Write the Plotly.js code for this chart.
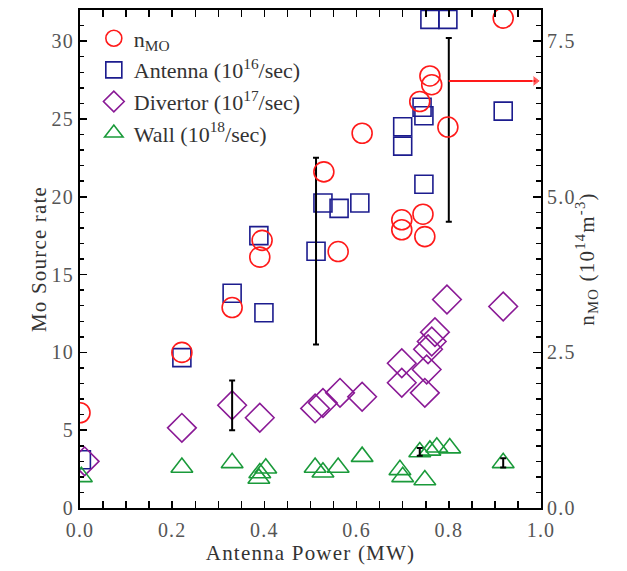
<!DOCTYPE html>
<html><head><meta charset="utf-8">
<script src="https://cdn.plot.ly/plotly-3.0.1.min.js"></script>
<style>body{margin:0;background:#fff}#c{width:627px;height:571px}
#c text{letter-spacing:1.2px} #c .legend text{letter-spacing:0}</style>
</head><body><div id="c"></div>
<script>
// n_MO (10^14 m^-3), right axis
const nmoX = [0.0, 0.221, 0.33, 0.395, 0.39, 0.529, 0.56, 0.612, 0.698, 0.698, 0.744, 0.748, 0.737, 0.759, 0.763, 0.798, 0.918];
const nmoY = [1.53, 2.5, 3.22, 4.3, 4.03, 5.4, 4.12, 6.02, 4.63, 4.47, 4.72, 4.36, 6.53, 6.94, 6.8, 6.12, 7.87];
// Antenna (10^16/sec), left axis
const antX = [0.003, 0.221, 0.33, 0.388, 0.399, 0.512, 0.527, 0.562, 0.607, 0.70, 0.70, 0.742, 0.746, 0.746, 0.759, 0.798, 0.918];
const antY = [3.1, 9.66, 13.8, 17.5, 12.55, 16.5, 19.6, 19.25, 19.6, 24.5, 23.25, 25.75, 25.2, 20.8, 31.4, 31.4, 25.5];
// Divertor (10^17/sec), left axis
const divX = [0.01, 0.221, 0.33, 0.39, 0.51, 0.527, 0.564, 0.612, 0.698, 0.698, 0.748, 0.752, 0.755, 0.763, 0.77, 0.796, 0.918];
const divY = [3.0, 5.15, 6.6, 5.8, 6.4, 6.75, 7.4, 7.15, 9.3, 8.05, 7.4, 8.9, 10.2, 10.7, 11.3, 13.4, 12.95];
// Wall (10^18/sec), left axis
const walX = [0.003, 0.221, 0.33, 0.39, 0.403, 0.388, 0.51, 0.527, 0.56, 0.612, 0.694, 0.70, 0.737, 0.748, 0.759, 0.774, 0.802, 0.918];
const walY = [2.0, 2.6, 2.9, 2.25, 2.55, 1.9, 2.6, 2.3, 2.6, 3.3, 2.45, 2.0, 3.6, 1.8, 3.7, 3.9, 3.85, 2.9];
// error bars (left-axis units)
const errX = [0.33, 0.512, 0.80, 0.737, 0.918];
const errY = [6.6, 16.5, 24.3, 3.6, 2.9];
const errE = [1.6, 6.0, 5.9, 0.25, 0.3];
// red arrow to right axis (n_MO units)
const arrX = [0.80, 0.988];
const arrY = [6.86, 6.86];

const SERIF = 'Liberation Serif, Times New Roman, serif';
const traces = [
  {x: nmoX, y: nmoY, yaxis: 'y2', type: 'scatter', mode: 'markers', name: 'n<sub>MO</sub>', legendgroup: 'a',
   marker: {symbol: 'circle-open', size: 20, color: '#ff1a1a', line: {width: 1.6}}},
  {x: antX, y: antY, type: 'scatter', mode: 'markers', name: 'Antenna (10<sup>16</sup>/sec)', legendgroup: 'b',
   marker: {symbol: 'square-open', size: 18, color: '#1c1c8e', line: {width: 1.6}}},
  {x: divX, y: divY, type: 'scatter', mode: 'markers', name: 'Divertor (10<sup>17</sup>/sec)', legendgroup: 'c',
   marker: {symbol: 'diamond-open', size: 22, color: '#8a1a96', line: {width: 1.6}}},
  {x: walX, y: walY, type: 'scatter', mode: 'markers', name: 'Wall (10<sup>18</sup>/sec)', legendgroup: 'd',
   marker: {symbol: 'triangle-up-open', size: 19, color: '#1a9a3a', line: {width: 1.6}}},
  {x: errX, y: errY, type: 'scatter', mode: 'markers', showlegend: false, hoverinfo: 'skip',
   marker: {size: 1, opacity: 0},
   error_y: {type: 'data', array: errE, visible: true, color: '#000', thickness: 2, width: 3}},
  {x: arrX, y: arrY, yaxis: 'y2', type: 'scatter', mode: 'lines+markers', showlegend: false, hoverinfo: 'skip',
   line: {color: '#ff1a1a', width: 2},
   marker: {symbol: ['circle', 'triangle-right'], size: [0.1, 10], color: '#ff1a1a'}}
];

const tickFont = {family: SERIF, size: 20, color: '#555'};
const titleFont = {family: SERIF, size: 21, color: '#333'};
const layout = {
  width: 627, height: 571,
  margin: {l: 80, r: 86, t: 10, b: 63},
  paper_bgcolor: '#fff', plot_bgcolor: '#fff',
  showlegend: true,
  legend: {x: 0.03, y: 0.985, xanchor: 'left', yanchor: 'top', bgcolor: 'rgba(0,0,0,0)',
           font: {family: SERIF, size: 22, color: '#333'}, tracegroupgap: 0, itemwidth: 30},
  xaxis: {range: [0, 1], dtick: 0.2, tick0: 0, tickformat: '.1f', ticks: 'inside', ticklen: 7, tickwidth: 1.5,
          tickcolor: '#000', showline: true, linecolor: '#000', linewidth: 2, mirror: 'allticks',
          showgrid: false, zeroline: false, tickfont: tickFont, ticklabelstandoff: 3,
          minor: {dtick: 0.05, ticks: 'inside', ticklen: 4, tickcolor: '#000', tickwidth: 1.5, showgrid: false},
          title: {text: 'Antenna Power (MW)', font: titleFont, standoff: 0}},
  yaxis: {range: [0, 32], dtick: 5, tick0: 0, ticks: 'inside', ticklen: 7, tickwidth: 1.5, tickcolor: '#000',
          showline: true, linecolor: '#000', linewidth: 2, mirror: false,
          showgrid: false, zeroline: false, tickfont: tickFont,
          minor: {dtick: 1, ticks: 'inside', ticklen: 4, tickcolor: '#000', tickwidth: 1.5, showgrid: false},
          title: {text: 'Mo Source rate', font: titleFont, standoff: 2}},
  yaxis2: {overlaying: 'y', side: 'right', range: [0, 8], dtick: 2.5, tick0: 0, tickformat: '.1f',
           ticks: 'inside', ticklen: 8, tickwidth: 1.5, tickcolor: '#000',
           showline: true, linecolor: '#000', linewidth: 2, showgrid: false, zeroline: false, tickfont: tickFont,
           minor: {dtick: 0.25, ticks: 'inside', ticklen: 5, tickcolor: '#000', tickwidth: 1.5, showgrid: false},
           title: {text: 'n<sub>MO</sub> (10<sup>14</sup>m<sup>-3</sup>)', font: titleFont, standoff: 0}}
};
Plotly.newPlot('c', traces, layout, {staticPlot: true, displayModeBar: false});
</script></body></html>
